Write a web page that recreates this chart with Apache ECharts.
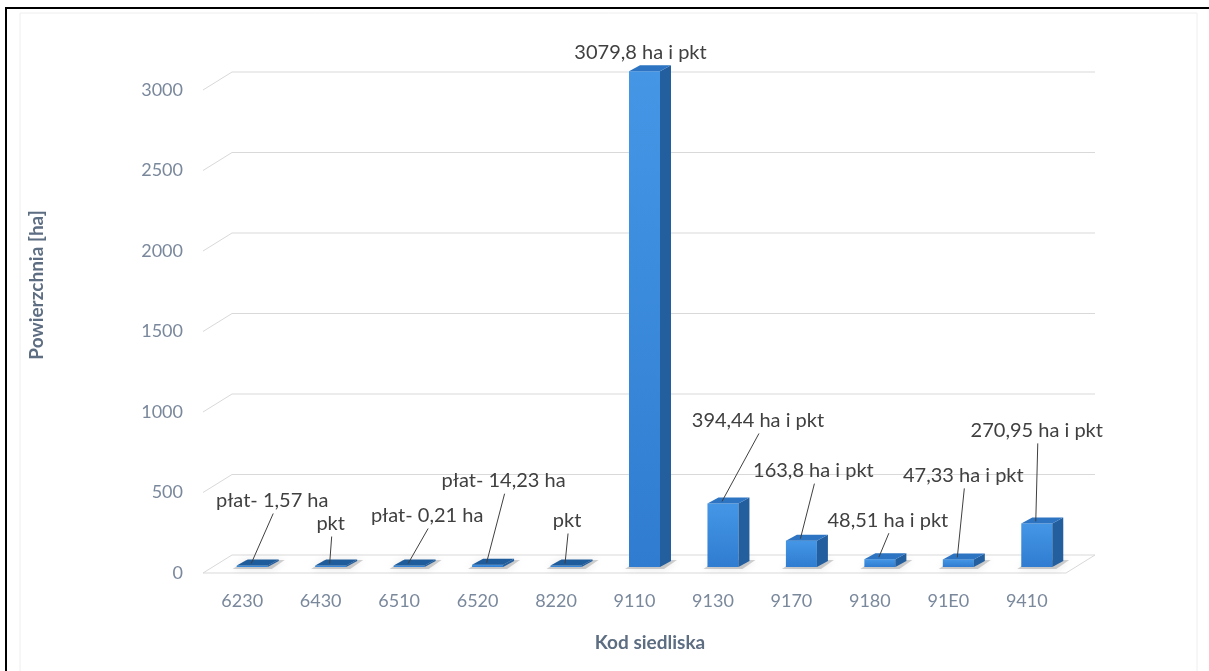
<!DOCTYPE html>
<html>
<head>
<meta charset="utf-8">
<script src="https://cdn.jsdelivr.net/npm/echarts@6/dist/echarts.min.js"></script>
<style>
html,body{margin:0;padding:0;background:#fff;}
#chart{width:1209px;height:671px;}
</style>
</head>
<body>
<div id="chart"></div>
<script>
// ---- data ----
const categories = ['6230','6430','6510','6520','8220','9110','9130','9170','9180','91E0','9410'];
const areaValues = [1.57, 0, 0.21, 14.23, 0, 3079.8, 394.44, 163.8, 48.51, 47.33, 270.95];
const labelTexts = ['płat- 1,57 ha','pkt','płat- 0,21 ha','płat- 14,23 ha','pkt','3079,8 ha i pkt','394,44 ha i pkt','163,8 ha i pkt','48,51 ha i pkt','47,33 ha i pkt','270,95 ha i pkt'];
const yTicks = [0, 500, 1000, 1500, 2000, 2500, 3000];

// ---- label layout (offsets of label centre from bar top, px) ----
const labelDx = [20, 0, 18, 16, 1, -4, 35, 12, 8, 5, 0];
const labelDy = [-65, -42, -50, -84, -45, -19, -83, -70, -39, -84, -93];
const showLeader = [1,1,1,1,1,0,1,1,1,1,1];

const FONT = 'Lato, "Open Sans", sans-serif';
const WALL_DX = 29, WALL_DY = -18;   // depth of the 3D box
const BAR_OX = 10, BAR_OY = -6;      // bar sits at mid depth
const BAR_DX = 11, BAR_DY = -6;      // bar's own depth
const BAR_W = 31;

const chart = echarts.init(document.getElementById('chart'));

function gridRender(params, api) {
  const cs = params.coordSys;
  const p = api.coord([0, api.value(1)]);
  const y = p[1];
  return {
    type: 'polyline',
    shape: { points: [[cs.x, y], [cs.x + WALL_DX, y + WALL_DY], [cs.x + cs.width + WALL_DX, y + WALL_DY]] },
    style: { stroke: '#d9d9d9', lineWidth: 1, fill: null },
    silent: true
  };
}

function floorRender(params, api) {
  const cs = params.coordSys;
  const y0 = api.coord([0, 0])[1];
  return {
    type: 'polyline',
    shape: { points: [[cs.x, y0], [cs.x + cs.width, y0], [cs.x + cs.width + WALL_DX, y0 + WALL_DY]] },
    style: { stroke: '#d9d9d9', lineWidth: 1, fill: null },
    silent: true
  };
}

function barRender(params, api) {
  const idx = api.value(0);
  const val = api.value(1);
  const base = api.coord([idx, 0]);
  const top = api.coord([idx, val]);
  const cx = base[0] + BAR_OX;
  const by = base[1] + BAR_OY;
  let ty = top[1] + BAR_OY;
  if (by - ty < 1.5) ty = by - 1.5;
  const xl = cx - BAR_W / 2, xr = cx + BAR_W / 2;
  const flat = (by - ty) < 4;
  const children = [];
  // soft floor shadow
  children.push({
    type: 'polygon',
    shape: { points: [[xl - 4, by + 2], [xl + BAR_DX - 2, by + BAR_DY - 1], [xr + BAR_DX + 6, by + BAR_DY - 1], [xr + 4, by + 2]] },
    style: { fill: 'rgba(90,90,90,0.28)', shadowBlur: 8, shadowColor: 'rgba(0,0,0,0.35)' },
    z2: 0
  });
  // front face
  children.push({
    type: 'rect',
    shape: { x: xl, y: ty, width: BAR_W, height: by - ty },
    style: { fill: new echarts.graphic.LinearGradient(0, 0, 0, 1, [
      { offset: 0, color: '#4597e6' }, { offset: 1, color: '#2f7cd0' }]) },
    z2: 2
  });
  // side face
  children.push({
    type: 'polygon',
    shape: { points: [[xr, ty], [xr + BAR_DX, ty + BAR_DY], [xr + BAR_DX, by + BAR_DY], [xr, by]] },
    style: { fill: '#235f9f' },
    z2: 2
  });
  // top face
  children.push({
    type: 'polygon',
    shape: { points: [[xl, ty], [xl + BAR_DX, ty + BAR_DY], [xr + BAR_DX, ty + BAR_DY], [xr, ty]] },
    style: { fill: flat ? '#1f5c9c' : '#2d74c2' },
    z2: 3
  });
  // label and leader line
  const i = params.dataIndex;
  const lx = cx + labelDx[i], ly = ty + labelDy[i];
  if (showLeader[i]) {
    children.push({
      type: 'line',
      shape: { x1: lx + 1, y1: ly + 13, x2: cx - 1, y2: ty - 2 },
      style: { stroke: '#404040', lineWidth: 1 },
      z2: 5
    });
  }
  children.push({
    type: 'text',
    style: {
      x: lx, y: ly, text: labelTexts[i],
      fill: '#404040', font: '20px ' + FONT,
      align: 'center', verticalAlign: 'middle'
    },
    z2: 6
  });
  return { type: 'group', children: children };
}

const option = {
  backgroundColor: '#ffffff',
  animation: false,
  grid: { left: 203, right: 143, top: 90, bottom: 98, containLabel: false },
  xAxis: {
    type: 'category',
    data: categories,
    axisLine: { show: false },
    axisTick: { show: false },
    axisLabel: { color: '#7a889c', fontSize: 18, fontFamily: FONT, margin: 19 },
    splitLine: { show: false }
  },
  yAxis: {
    type: 'value',
    min: 0, max: 3000, interval: 500,
    axisLine: { show: false },
    axisTick: { show: false },
    axisLabel: { color: '#7a889c', fontSize: 18, fontFamily: FONT, margin: 20, formatter: v => String(v) },
    splitLine: { show: false }
  },
  graphic: [
    { type: 'polyline', shape: { points: [[6, 671], [6, 8], [1209, 8]] }, style: { stroke: '#000', lineWidth: 2, fill: null }, z: 10 },
    { type: 'rect', shape: { x: 20, y: 13, width: 1177, height: 670 }, style: { stroke: '#eeeeee', lineWidth: 1, fill: null }, z: 0 },
    { type: 'text', x: 37, y: 285, rotation: Math.PI / 2,
      style: { text: 'Powierzchnia [ha]', fill: '#5d6d82', font: 'bold 19px ' + FONT, align: 'center', verticalAlign: 'middle' } },
    { type: 'text', x: 650, y: 643,
      style: { text: 'Kod siedliska', fill: '#5d6d82', font: 'bold 19px ' + FONT, align: 'center', verticalAlign: 'middle' } }
  ],
  series: [
    {
      type: 'custom', name: 'grid', z: 1, silent: true,
      data: yTicks.map(v => [0, v]),
      encode: { x: 0, y: 1 },
      renderItem: gridRender
    },
    {
      type: 'custom', name: 'floor', z: 1, silent: true,
      data: [[0, 0]],
      encode: { x: 0, y: 1 },
      renderItem: floorRender
    },
    {
      type: 'custom', name: 'Powierzchnia', z: 3,
      data: areaValues.map((v, i) => [i, v]),
      encode: { x: 0, y: 1 },
      renderItem: barRender
    }
  ]
};
chart.setOption(option);
</script>
</body>
</html>
